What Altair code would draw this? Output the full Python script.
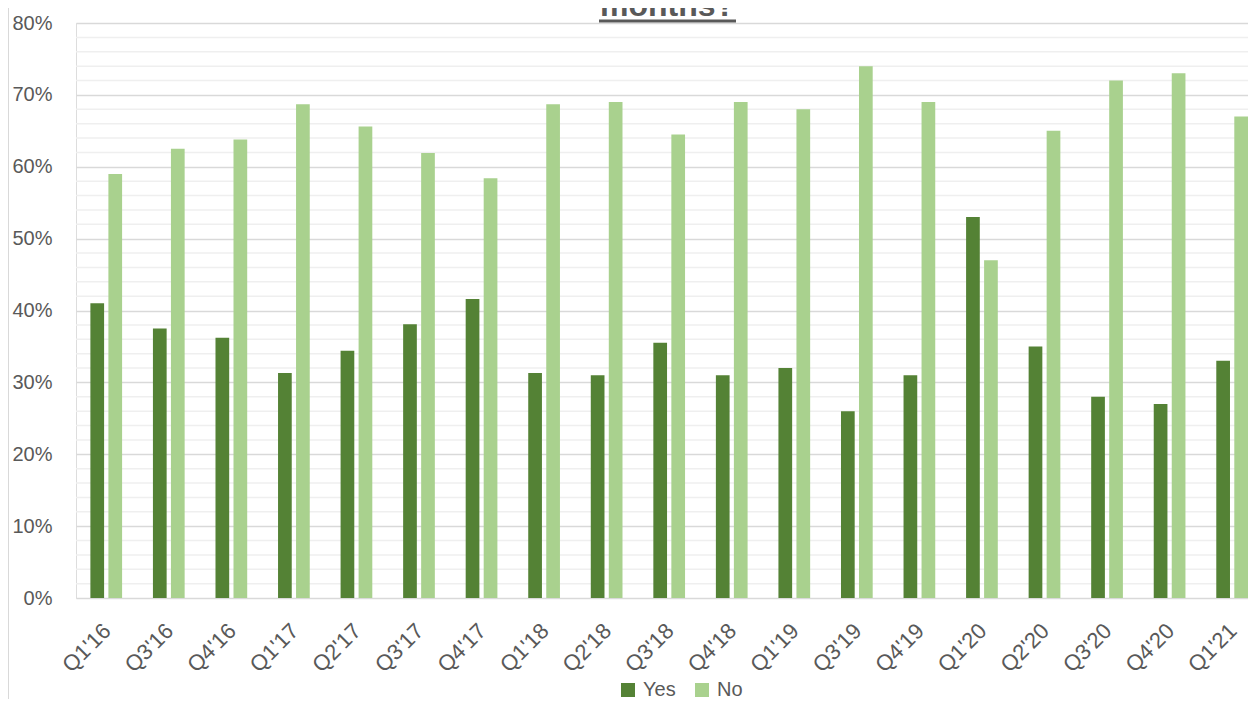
import altair as alt
import pandas as pd

quarters = ["Q1'16", "Q3'16", "Q4'16", "Q1'17", "Q2'17", "Q3'17", "Q4'17",
            "Q1'18", "Q2'18", "Q3'18", "Q4'18", "Q1'19", "Q3'19", "Q4'19",
            "Q1'20", "Q2'20", "Q3'20", "Q4'20", "Q1'21"]
yes_vals = [0.410, 0.375, 0.362, 0.313, 0.344, 0.381, 0.416,
            0.313, 0.310, 0.355, 0.310, 0.320, 0.260, 0.310,
            0.530, 0.350, 0.280, 0.270, 0.330]
no_vals = [0.590, 0.625, 0.638, 0.687, 0.656, 0.619, 0.584,
           0.687, 0.690, 0.645, 0.690, 0.680, 0.740, 0.690,
           0.470, 0.650, 0.720, 0.730, 0.670]
series = ["Yes", "No"]
colors = ["#548235", "#A9D18E"]
major_ticks = [0.0, 0.1, 0.2, 0.3, 0.4, 0.5, 0.6, 0.7, 0.8]
minor_ticks = [i / 50 for i in range(1, 40) if i % 5 != 0]
title_text = "months?"

rows = []
for q, y, n in zip(quarters, yes_vals, no_vals):
    rows.append({"quarter": q, "answer": "Yes", "value": y})
    rows.append({"quarter": q, "answer": "No", "value": n})
df = pd.DataFrame(rows)
minor_df = pd.DataFrame({"v": minor_ticks})
dummy = pd.DataFrame({"a": [0]})

FONT = "Liberation Sans"
TXT = "#595959"

yscale = alt.Scale(domain=[0, 0.8], nice=False, zero=True)
yaxis = alt.Axis(values=major_ticks, format=".0%", grid=True, gridColor="#d9d9d9",
                 gridWidth=1.5, domain=False, ticks=False, tickSize=0,
                 labelPadding=24, labelFontSize=20, labelColor=TXT, labelFont=FONT,
                 title=None)

minor = alt.Chart(minor_df).mark_rule(color="#efefef", strokeWidth=1.5).encode(
    y=alt.Y("v:Q", scale=yscale, axis=yaxis)
)

bars = alt.Chart(df).mark_bar().encode(
    x=alt.X("quarter:N", sort=quarters,
            scale=alt.Scale(paddingInner=0.493, paddingOuter=0.115, align=1),
            axis=alt.Axis(labelAngle=-45, labelAlign="right", labelBaseline="middle",
                          labelPadding=29, labelOffset=1, ticks=False, tickSize=0,
                          domain=False, grid=False, title=None, labelFontSize=22,
                          labelColor=TXT, labelFont=FONT, labelOverlap=False)),
    xOffset=alt.XOffset("answer:N", sort=series,
                        scale=alt.Scale(domain=series, paddingInner=0.239, paddingOuter=0)),
    y=alt.Y("value:Q", scale=yscale, axis=yaxis),
    color=alt.Color("answer:N", sort=series,
                    scale=alt.Scale(domain=series, range=colors),
                    legend=alt.Legend(orient="none", legendX=542, legendY=657,
                                      direction="horizontal", symbolType="square",
                                      symbolSize=196, symbolStrokeWidth=0,
                                      labelFontSize=20, labelColor=TXT, labelFont=FONT,
                                      title=None, columnPadding=16, labelOffset=5,
                                      padding=0)),
)

title = alt.Chart(dummy).mark_text(
    text=title_text, font=FONT, fontSize=32, fontWeight="bold", color=TXT,
    align="center", baseline="alphabetic"
).encode(x=alt.value(591.5), y=alt.value(-7))

underline = alt.Chart(dummy).mark_rule(color=TXT, strokeWidth=3).encode(
    x=alt.value(523), x2=alt.value(660), y=alt.value(-2)
)

border = alt.Chart(dummy).mark_rule(color="#d9d9d9", strokeWidth=1).encode(
    x=alt.value(-67.5), y=alt.value(-15), y2=alt.value(676)
)

chart = alt.layer(minor, bars, title, underline, border).properties(
    width=1172, height=575,
    padding={"left": 68, "top": 15, "right": 0, "bottom": 101},
    autosize=alt.AutoSizeParams(type="none"),
).configure_view(stroke=None).configure(background="white")

chart.save("out.html", embed_options={"renderer": "svg", "actions": False})
